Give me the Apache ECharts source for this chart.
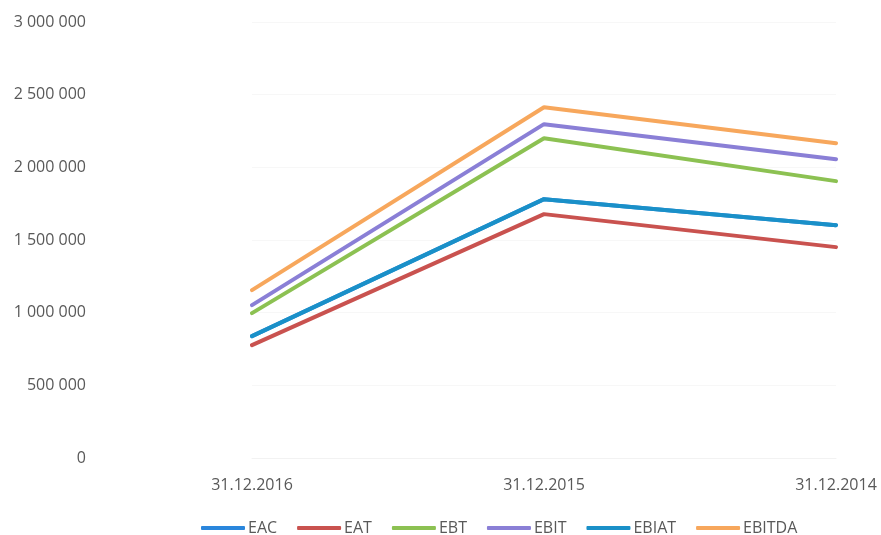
<!DOCTYPE html>
<html><head><meta charset="utf-8">
<script src="https://cdn.jsdelivr.net/npm/echarts@6/dist/echarts.min.js"></script>
<style>html,body{margin:0;padding:0;background:#fff}#c{width:881px;height:535px}</style>
</head><body><div id="c"></div>
<script>
const categories = ['31.12.2016', '31.12.2015', '31.12.2014'];
const EAC = [839000, 1781000, 1602000];
const EAT = [777000, 1678000, 1451000];
const EBT = [997000, 2200000, 1905000];
const EBIT = [1052000, 2297000, 2056000];
const EBIAT = [839000, 1781000, 1602000];
const EBITDA = [1155000, 2413000, 2166000];
const seriesNames = ['EAC', 'EAT', 'EBT', 'EBIT', 'EBIAT', 'EBITDA'];
const seriesData = [EAC, EAT, EBT, EBIT, EBIAT, EBITDA];
const colors = ['#2a86dc', '#c9524f', '#8cc152', '#8a7fd6', '#1a90c8', '#f7a75c'];

const fmt = v => String(v).replace(/\B(?=(\d{3})+(?!\d))/g, ' ');

const chart = echarts.init(document.getElementById('c'));
chart.setOption({
  animation: false,
  backgroundColor: '#fff',
  textStyle: { fontFamily: 'Open Sans' },
  legend: {
    top: 515, left: 196,
    itemWidth: 44, itemHeight: 4, itemGap: 20,
    icon: 'roundRect',
    textStyle: { color: '#595959', fontSize: 16, fontFamily: 'Open Sans', padding: [0, 0, 0, -2] },
    data: seriesNames
  },
  grid: { left: 252, right: 45, top: 22, bottom: 77 },
  xAxis: {
    type: 'category', data: categories, boundaryGap: false,
    axisLine: { lineStyle: { color: '#f2f2f2' } },
    axisTick: { show: false },
    axisLabel: { color: '#595959', fontSize: 16, margin: 19 }
  },
  yAxis: {
    type: 'value', min: 0, max: 3000000, interval: 500000,
    axisLine: { show: false }, axisTick: { show: false },
    splitLine: { lineStyle: { color: '#f7f7f7' } },
    axisLabel: { color: '#595959', fontSize: 16, margin: 166, formatter: fmt }
  },
  series: seriesNames.map((n, i) => ({
    name: n, type: 'line', data: seriesData[i],
    symbol: 'none', color: colors[i],
    lineStyle: { width: 4, color: colors[i], cap: 'round' }
  }))
});
</script></body></html>
